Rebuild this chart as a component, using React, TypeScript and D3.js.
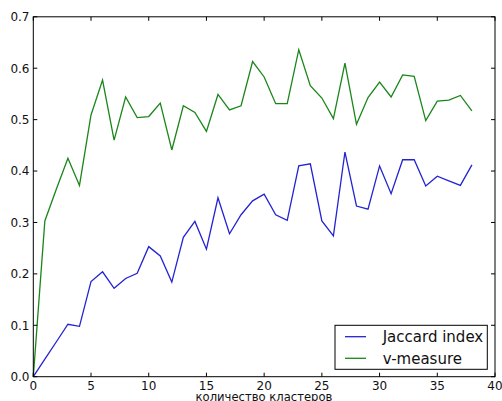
import React from "react";
import * as d3 from "d3";

const clusters = d3.range(0, 39);
const jaccard = [0, 0.034, 0.068, 0.102, 0.098, 0.185, 0.204, 0.172, 0.191, 0.201, 0.253, 0.235, 0.184, 0.271, 0.302, 0.248, 0.348, 0.278, 0.315, 0.342, 0.355, 0.315, 0.304, 0.41, 0.414, 0.303, 0.274, 0.437, 0.332, 0.326, 0.41, 0.356, 0.422, 0.422, 0.371, 0.39, 0.381, 0.372, 0.412];
const vmeasure = [0, 0.303, 0.365, 0.425, 0.372, 0.509, 0.577, 0.46, 0.544, 0.504, 0.506, 0.532, 0.441, 0.527, 0.514, 0.477, 0.549, 0.519, 0.527, 0.613, 0.583, 0.531, 0.531, 0.636, 0.566, 0.542, 0.502, 0.61, 0.491, 0.543, 0.573, 0.544, 0.587, 0.584, 0.498, 0.536, 0.538, 0.547, 0.517];
const xTicks = [0, 5, 10, 15, 20, 25, 30, 35, 40];
const yTicks = [0, 0.1, 0.2, 0.3, 0.4, 0.5, 0.6, 0.7];
const seriesNames = ["Jaccard index", "v-measure"];
const xLabel = "количество кластеров";

const W = 502, H = 401;
const L = 33.3, R = 495, T = 16.8, B = 376.7;
const FONT = "'DejaVu Sans', sans-serif";

export default function App() {
  const x = d3.scaleLinear().domain([0, 40]).range([L, R]);
  const y = d3.scaleLinear().domain([0, 0.7]).range([B, T]);
  const line = (vals: number[]) =>
    d3.line<number>().x((_, i) => x(clusters[i])).y((v) => y(v))(vals) || "";
  const colors = ["#2323d2", "#1a861a"];
  const tick = 4;
  return (
    <svg width={W} height={H} style={{ position: "absolute", left: 0, top: 0 }} fontFamily={FONT}>
      <rect x={0} y={0} width={W} height={H} fill="#fff" />
      <path d={line(vmeasure)} fill="none" stroke={colors[1]} strokeWidth={1.3} />
      <path d={line(jaccard)} fill="none" stroke={colors[0]} strokeWidth={1.3} />
      <rect x={L} y={T} width={R - L} height={B - T} fill="none" stroke="#000" strokeWidth={1} />
      {xTicks.map((t) => (
        <g key={"x" + t}>
          <line x1={x(t)} x2={x(t)} y1={B} y2={B - tick} stroke="#000" />
          <line x1={x(t)} x2={x(t)} y1={T} y2={T + tick} stroke="#000" />
          <text x={x(t)} y={389.5} textAnchor="middle" fontSize={12} fill="#111">{t}</text>
        </g>
      ))}
      {yTicks.map((t) => (
        <g key={"y" + t}>
          <line x1={L} x2={L + tick} y1={y(t)} y2={y(t)} stroke="#000" />
          <line x1={R} x2={R - tick} y1={y(t)} y2={y(t)} stroke="#000" />
          <text x={29.5} y={y(t) + 4.3} textAnchor="end" fontSize={12} fill="#111">{t.toFixed(1)}</text>
        </g>
      ))}
      <text x={264} y={400.5} textAnchor="middle" fontSize={11.6} fill="#111">{xLabel}</text>
      <rect x={335} y={325.3} width={152.3} height={44} fill="#fff" stroke="#000" strokeWidth={1} />
      {seriesNames.map((n, i) => {
        const ly = [336.7, 358.3][i];
        return (
          <g key={n}>
            <line x1={345} x2={366} y1={ly} y2={ly} stroke={colors[i]} strokeWidth={1.3} />
            <text x={382.7} y={ly + 5.5} fontSize={15} fill="#111">{n}</text>
          </g>
        );
      })}
    </svg>
  );
}
